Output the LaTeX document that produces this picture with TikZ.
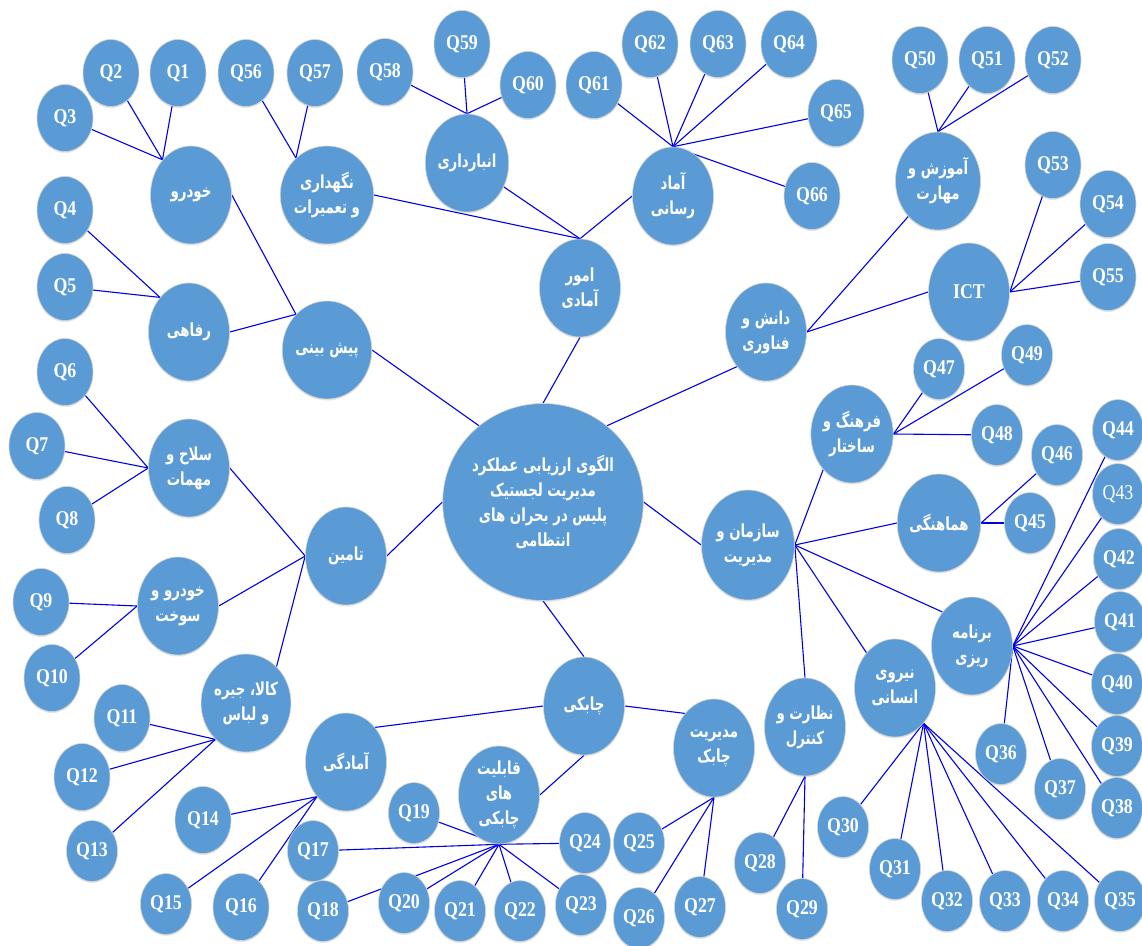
\documentclass[tikz,border=0pt]{standalone}
\usepackage{fontspec}
\setmainfont{Liberation Serif}
\newfontfamily\qfont[FakeStretch=0.85]{Liberation Serif}
\newfontfamily\fafont[Script=Arabic,FakeStretch=0.74]{DejaVu Sans}
\TeXXeTstate=1
\newcommand{\fa}[1]{\beginR #1\endR}% one right-to-left line
\usetikzlibrary{shapes.geometric,backgrounds,shadows}
\definecolor{nodeblue}{RGB}{91,155,213}
\definecolor{linkblue}{RGB}{0,0,230}
\tikzset{
  bubble/.style={ellipse, fill=nodeblue, draw=gray!35, line width=0.6pt, inner sep=0pt,
    text=white, align=center, drop shadow={shadow xshift=0pt,shadow yshift=-1.5pt,opacity=0.2}},
  qbig/.style={bubble, minimum width=56pt, minimum height=67pt,
    font=\qfont\fontsize{21}{21}\selectfont\bfseries},
  qsmall/.style={qbig, minimum width=51pt, minimum height=61pt},
  topic/.style={bubble, minimum width=81pt, minimum height=98pt,
    font=\fafont\fontsize{18}{25}\selectfont\bfseries},
  link/.style={draw=linkblue, line width=1.1pt},
}

\begin{document}
\begin{tikzpicture}[x=1pt,y=-1pt]
   \useasboundingbox (0,0) rectangle (1142,945);

   % centre
   \node[topic, minimum width=163pt, minimum height=197pt] (center) at (543,502)
     {\fa{الگوی ارزیابی عملکرد}\\\fa{مدیریت لجستیک}\\\fa{پلیس در بحران های}\\\fa{انتظامی}};

   % امور آمادی
   \node[topic] (omoor) at (580,288) {\fa{امور}\\\fa{آمادی}};
   \node[topic] (negahdari) at (327,195) {\fa{نگهداری}\\\fa{و تعمیرات}};
   \node[topic] (anbardari) at (467,163) {\fa{انبارداری}};
   \node[topic] (amad) at (673,196) {\fa{آماد}\\\fa{رسانی}};
   \node[qbig] (q56) at (246,73) {Q56};
   \node[qbig] (q57) at (315,73) {Q57};
   \node[qbig] (q58) at (385,72) {Q58};
   \node[qbig] (q59) at (462,44) {Q59};
   \node[qbig] (q60) at (528,85) {Q60};
   \node[qbig] (q61) at (594,85) {Q61};
   \node[qbig] (q62) at (650,44) {Q62};
   \node[qbig] (q63) at (718,44) {Q63};
   \node[qbig] (q64) at (789,44) {Q64};
   \node[qbig] (q65) at (836,113) {Q65};
   \node[qbig] (q66) at (812,196) {Q66};

   % پیش بینی
   \node[topic] (pishbini) at (327,350) {\fa{پیش بینی}};
   \node[topic] (khodro) at (191,195) {\fa{خودرو}};
   \node[topic] (refahi) at (189,332) {\fa{رفاهی}};
   \node[qbig] (q1) at (178,73) {Q1};
   \node[qbig] (q2) at (111,73) {Q2};
   \node[qbig] (q3) at (65,118) {Q3};
   \node[qbig] (q4) at (65,210) {Q4};
   \node[qbig] (q5) at (65,287) {Q5};

   % تامین
   \node[topic] (tamin) at (346,556) {\fa{تامین}};
   \node[topic] (selah) at (189,468) {\fa{سلاح و}\\\fa{مهمات}};
   \node[topic] (sookht) at (178,606) {\fa{خودرو و}\\\fa{سوخت}};
   \node[topic] (kala) at (246,703) {\fa{کالا، جیره}\\\fa{و لباس}};
   \node[qbig] (q6) at (65,372) {Q6};
   \node[qbig] (q7) at (37,446) {Q7};
   \node[qbig] (q8) at (67,520) {Q8};
   \node[qbig] (q9) at (41,602) {Q9};
   \node[qbig] (q10) at (52,678) {Q10};
   \node[qbig] (q11) at (122,718) {Q11};
   \node[qbig] (q12) at (82,777) {Q12};
   \node[qsmall] (q13) at (92,851) {Q13};

   % چابکی
   \node[topic] (chaboki) at (584,706) {\fa{چابکی}};
   \node[topic] (amadegi) at (346,762) {\fa{آمادگی}};
   \node[topic] (ghabeliat) at (499,795) {\fa{قابلیت}\\\fa{های}\\\fa{چابکی}};
   \node[topic] (modiriat) at (714,748) {\fa{مدیریت}\\\fa{چابک}};
   \node[qbig] (q14) at (203,820) {Q14};
   \node[qsmall] (q15) at (166,904) {Q15};
   \node[qbig] (q16) at (241,907) {Q16};
   \node[qsmall] (q17) at (313,851) {Q17};
   \node[qsmall] (q18) at (323,911) {Q18};
   \node[qsmall] (q19) at (414,813) {Q19};
   \node[qsmall] (q20) at (404,903) {Q20};
   \node[qsmall] (q21) at (460,911) {Q21};
   \node[qsmall] (q22) at (520,911) {Q22};
   \node[qsmall] (q23) at (581,905) {Q23};
   \node[qsmall] (q24) at (585,843) {Q24};
   \node[qsmall] (q25) at (639,843) {Q25};
   \node[qsmall] (q26) at (639,918) {Q26};
   \node[qsmall] (q27) at (700,907) {Q27};

   % سازمان و مدیریت
   \node[topic, minimum width=93pt, minimum height=110pt] (sazman) at (748,545) {\fa{سازمان و}\\\fa{مدیریت}};
   \node[topic] (nezarat) at (805,727) {\fa{نظارت و}\\\fa{کنترل}};
   \node[topic] (niroo) at (895,688) {\fa{نیروی}\\\fa{انسانی}};
   \node[topic] (barname) at (972,646) {\fa{برنامه}\\\fa{ریزی}};
   \node[topic] (farhang) at (852,434) {\fa{فرهنگ و}\\\fa{ساختار}};
   \node[topic] (hamahangi) at (939,523) {\fa{هماهنگی}};
   \node[qsmall] (q28) at (760,863) {Q28};
   \node[qsmall] (q29) at (802,909) {Q29};
   \node[qsmall] (q30) at (843,827) {Q30};
   \node[qsmall] (q31) at (895,869) {Q31};
   \node[qsmall] (q32) at (947,901) {Q32};
   \node[qsmall] (q33) at (1005,901) {Q33};
   \node[qsmall] (q34) at (1063,901) {Q34};
   \node[qsmall] (q35) at (1120,901) {Q35};
   \node[qsmall] (q36) at (1001,754) {Q36};
   \node[qsmall] (q37) at (1060,789) {Q37};
   \node[qsmall] (q38) at (1117,808) {Q38};
   \node[qsmall] (q39) at (1117,746) {Q39};
   \node[qsmall] (q40) at (1117,684) {Q40};
   \node[qsmall] (q41) at (1120,622) {Q41};
   \node[qsmall] (q42) at (1119,559) {Q42};
   \node[qsmall, font=\qfont\fontsize{21}{21}\selectfont] (q43) at (1118,494) {Q43};
   \node[qsmall] (q44) at (1118,430) {Q44};
   \node[qsmall] (q45) at (1030,523) {Q45};
   \node[qsmall] (q46) at (1057,455) {Q46};
   \node[qsmall] (q47) at (939,369) {Q47};
   \node[qsmall] (q48) at (997,435) {Q48};
   \node[qsmall] (q49) at (1027,355) {Q49};

   % دانش و فناوری
   \node[topic] (danesh) at (766,332) {\fa{دانش و}\\\fa{فناوری}};
   \node[topic] (amoozesh) at (938,181) {\fa{آموزش و}\\\fa{مهارت}};
   \node[topic, font=\qfont\fontsize{21}{21}\selectfont\bfseries] (ict) at (969,292) {ICT};
   \node[qbig] (q50) at (920,60) {Q50};
   \node[qbig] (q51) at (987,60) {Q51};
   \node[qbig] (q52) at (1053,60) {Q52};
   \node[qbig] (q53) at (1053,165) {Q53};
   \node[qbig] (q54) at (1108,204) {Q54};
   \node[qbig] (q55) at (1108,277) {Q55};

   \begin{scope}[on background layer]
     % main branches
     \draw[link] (center.north) -- (omoor.south);
     \draw[link] (center.130) -- (pishbini.east);
     \draw[link] (center.west) -- (tamin.east);
     \draw[link] (center.south) -- (chaboki.north);
     \draw[link] (center.east) -- (sazman.west);
     \draw[link] (center.50) -- (danesh.230);

     \draw[link] (omoor.north) -- (negahdari.east);
     \draw[link] (omoor.north) -- (anbardari.327);
     \draw[link] (omoor.north) -- (amad.west);
     \foreach \q in {56,57} \draw[link] (negahdari.130) -- (q\q);
     \foreach \q in {58,59,60} \draw[link] (anbardari.north) -- (q\q);
     \foreach \q in {61,...,66} \draw[link] (amad.north) -- (q\q);

     \draw[link] (pishbini.131) -- (khodro.east);
     \draw[link] (pishbini.131) -- (refahi.east);
     \foreach \q in {1,2,3} \draw[link] (khodro.129) -- (q\q);
     \foreach \q in {4,5} \draw[link] (refahi.130) -- (q\q);

     \draw[link] (tamin.west) -- (selah.east);
     \draw[link] (tamin.west) -- (sookht.east);
     \draw[link] (tamin.west) -- (kala.50);
     \foreach \q in {6,7,8} \draw[link] (selah.west) -- (q\q);
     \foreach \q in {9,10} \draw[link] (sookht.west) -- (q\q);
     \foreach \q in {11,12,13} \draw[link] (kala.230) -- (q\q);

     \draw[link] (chaboki.west) -- (amadegi.50);
     \draw[link] (chaboki.south) -- (ghabeliat.east);
     \draw[link] (chaboki.east) -- (modiriat.130);
     \foreach \q in {14,15,16} \draw[link] (amadegi.230) -- (q\q);
     \foreach \q in {17,...,24} \draw[link] (ghabeliat.south) -- (q\q);
     \foreach \q in {25,26,27} \draw[link] (modiriat.south) -- (q\q);

     \draw[link] (sazman.east) -- (nezarat.north);
     \draw[link] (sazman.east) -- (niroo.129);
     \draw[link] (sazman.east) -- (barname.131);
     \draw[link] (sazman.east) -- (hamahangi.west);
     \draw[link] (sazman.east) -- (farhang.231);
     \foreach \q in {28,29} \draw[link] (nezarat.south) -- (q\q);
     \foreach \q in {30,...,35} \draw[link] (niroo.309) -- (q\q);
     \foreach \q in {36,...,44} \draw[link] (barname.east) -- (q\q);
     \foreach \q in {45,46} \draw[link] (hamahangi.east) -- (q\q);
     \foreach \q in {47,48,49} \draw[link] (farhang.east) -- (q\q);

     \draw[link] (danesh.east) -- (amoozesh.230);
     \draw[link] (danesh.east) -- (ict.west);
     \foreach \q in {50,51,52} \draw[link] (amoozesh.north) -- (q\q);
     \foreach \q in {53,54,55} \draw[link] (ict.east) -- (q\q);
   \end{scope}
\end{tikzpicture}
\end{document}
